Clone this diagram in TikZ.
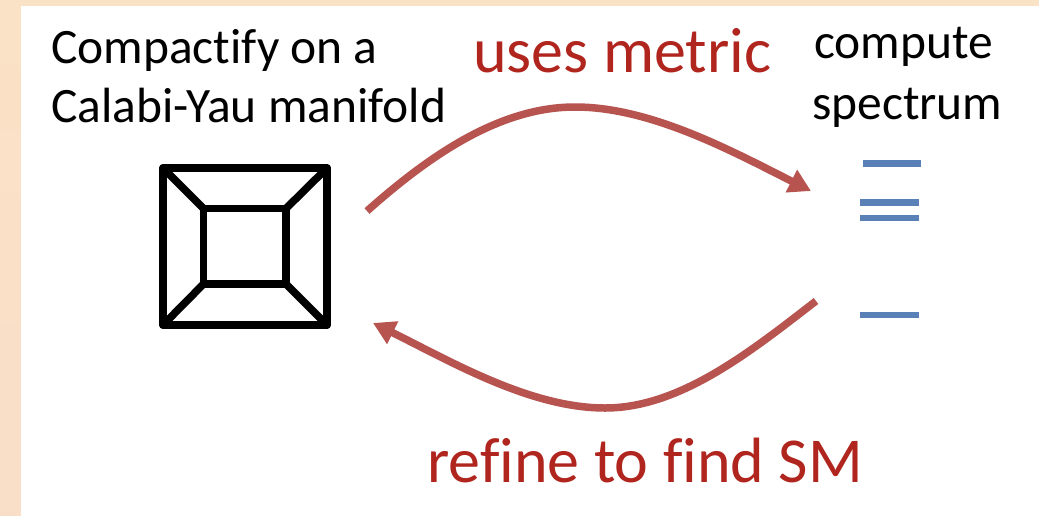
\documentclass[tikz,border=0pt]{standalone}
\usepackage{fontspec}
\setmainfont[Ligatures=NoCommon]{Carlito}
\usetikzlibrary{arrows.meta}
\definecolor{peach}{HTML}{FAE2C6}
\definecolor{peachlow}{HTML}{F9DEC8}
\definecolor{arrowred}{HTML}{B85450}
\definecolor{textred}{HTML}{B0261E}
\definecolor{levelblue}{HTML}{5A80B8}
\tikzset{
  x=1pt,y=-1pt,
  blacktext/.style={inner sep=0pt,anchor=base west,text=black,font=\fontsize{49.5}{52}\selectfont},
  redtext/.style={inner sep=0pt,anchor=base west,text=textred,font=\fontsize{64}{66}\selectfont},
  cyline/.style={draw=black,line width=7.6pt,line cap=round,line join=round},
  curvearrow/.style={draw=arrowred,line width=7.5pt,-{Triangle[length=22pt,width=24pt]}},
  levelline/.style={draw=levelblue,line width=6.5pt}
}
\begin{document}
\begin{tikzpicture}
\useasboundingbox (0,0) rectangle (1039,515);
\fill[top color=peach,bottom color=peachlow] (0,0) rectangle (1039,515);
\fill[white] (21,6) rectangle (1040,517);
\node[blacktext] (t1) at (51,63.5) {Compactify on a};
\node[blacktext] (t2) at (51,122) {Calabi-Yau manifold};
\node[blacktext] (t3) at (814,58) {compute};
\node[blacktext] (t4) at (812,119) {spectrum};
\node[redtext] (t5) at (473,72) {uses metric};
\node[redtext] (t6) at (427,482) {refine to find SM};
\coordinate (oa) at (163,168); \coordinate (ob) at (327,168);
\coordinate (oc) at (327,325); \coordinate (od) at (163,325);
\coordinate (ia) at (203.5,208.5); \coordinate (ib) at (286,208.5);
\coordinate (ic) at (286,284); \coordinate (id) at (203.5,284);
\draw[cyline] (oa)--(ob)--(oc)--(od)--cycle;
\draw[cyline] (ia)--(ib)--(ic)--(id)--cycle;
\draw[cyline] (oa)--(ia) (ob)--(ib) (oc)--(ic) (od)--(id);
\coordinate (s1) at (367,211); \coordinate (e1) at (811,191);
\coordinate (s2) at (816,301); \coordinate (e2) at (373,323);
\coordinate (m1) at (575,107); \coordinate (m2) at (605,408);
\draw[curvearrow] (s1) .. controls (430,155) and (500,107) .. (m1) .. controls (650,107) and (730,150) .. (e1);
\draw[curvearrow] (s2) .. controls (750,352) and (680,408) .. (m2) .. controls (530,408) and (450,361) .. (e2);
\coordinate (l1a) at (863,163.5); \coordinate (l1b) at (921,163.5);
\coordinate (l2a) at (860,202.5); \coordinate (l2b) at (919,202.5);
\coordinate (l3a) at (860,218); \coordinate (l3b) at (919,218);
\coordinate (l4a) at (860,315); \coordinate (l4b) at (919,315);
\draw[levelline] (l1a)--(l1b);
\draw[levelline] (l2a)--(l2b);
\draw[levelline] (l3a)--(l3b);
\draw[levelline] (l4a)--(l4b);
\end{tikzpicture}
\end{document}
